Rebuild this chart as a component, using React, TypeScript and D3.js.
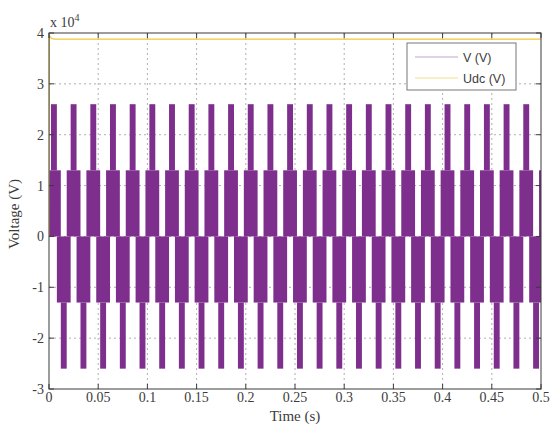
import React from 'react';
import * as d3 from 'd3';

// Figure size and plot frame
const W = 554;
const H = 426;
const frame = { left: 49, right: 541, top: 33, bottom: 389 };

// Axis ticks
const xTicks = [0, 0.05, 0.1, 0.15, 0.2, 0.25, 0.3, 0.35, 0.4, 0.45, 0.5];
const xTickLabels = ['0', '0.05', '0.1', '0.15', '0.2', '0.25', '0.3', '0.35', '0.4', '0.45', '0.5'];
const yTicks = [-3, -2, -1, 0, 1, 2, 3, 4]; // ×10^4
const yTickLabels = ['-3', '-2', '-1', '0', '1', '2', '3', '4'];

// Start time (s) of each 50 Hz fundamental cycle of the inverter output
const cycleStarts = [
  0, 0.02, 0.04, 0.06, 0.08, 0.1, 0.12, 0.14, 0.16, 0.18, 0.2, 0.22, 0.24,
  0.26, 0.28, 0.3, 0.32, 0.34, 0.36, 0.38, 0.4, 0.42, 0.44, 0.46, 0.48, 0.5,
];

// Five-level voltage steps (V)
const stepLevel = 13000;
const peakLevel = 26000;

// Switching bands within one cycle: time span (s, relative to cycle start) and voltage span (V)
const bandT0 = [-0.002, 0.002, 0.008, 0.012];
const bandT1 = [0.012, 0.008, 0.022, 0.018];
const bandLo = [0, stepLevel, -stepLevel, -peakLevel];
const bandHi = [stepLevel, peakLevel, 0, -stepLevel];

// DC-link voltage Udc (V)
const udcTimes = [0, 0.0004, 0.0012, 0.003, 0.006, 0.1, 0.2, 0.3, 0.4, 0.5];
const udcValues = [0, 39600, 39200, 38900, 38800, 38800, 38800, 38800, 38800, 38800];

const vColor = '#7e2f8e';
const udcColor = '#efc93a';
const serif = '"Liberation Serif", "DejaVu Serif", serif';
const sans = '"Liberation Sans", Arial, sans-serif';

export default function App() {
  const x = d3.scaleLinear().domain([0, 0.5]).range([frame.left, frame.right]);
  const y = d3.scaleLinear().domain([-30000, 40000]).range([frame.bottom, frame.top]);

  const bands: { x: number; w: number; y: number; h: number }[] = [];
  cycleStarts.forEach((c) => {
    bandT0.forEach((t0, i) => {
      const a = Math.max(0, c + t0);
      const b = Math.min(0.5, c + bandT1[i]);
      if (b <= a) return;
      bands.push({
        x: x(a),
        w: x(b) - x(a),
        y: y(bandHi[i]),
        h: y(bandLo[i]) - y(bandHi[i]),
      });
    });
  });

  const udcLine = d3
    .line<number>()
    .x((_, i) => x(udcTimes[i]))
    .y((d) => y(d))(udcValues) as string;

  const axisColor = '#3a3a3a';
  const gridColor = '#9a9a9a';
  const textColor = '#3c3c3c';
  const tickLen = 5;

  return (
    <svg
      width={W}
      height={H}
      style={{ position: 'absolute', left: 0, top: 0, background: '#fff' }}
    >
      <defs>
        <clipPath id="plotClip">
          <rect
            x={frame.left}
            y={frame.top}
            width={frame.right - frame.left}
            height={frame.bottom - frame.top}
          />
        </clipPath>
      </defs>
      <rect x={0} y={0} width={W} height={H} fill="#fff" />

      {/* dotted grid */}
      {xTicks.slice(1, -1).map((t) => (
        <line
          key={'gx' + t}
          x1={x(t)}
          x2={x(t)}
          y1={frame.top}
          y2={frame.bottom}
          stroke={gridColor}
          strokeWidth={0.8}
          strokeDasharray="2,3"
        />
      ))}
      {yTicks.slice(1, -1).map((t) => (
        <line
          key={'gy' + t}
          x1={frame.left}
          x2={frame.right}
          y1={y(t * 1e4)}
          y2={y(t * 1e4)}
          stroke={gridColor}
          strokeWidth={0.8}
          strokeDasharray="2,3"
        />
      ))}

      {/* V (V) */}
      <g clipPath="url(#plotClip)">
        {bands.map((b, i) => (
          <rect key={i} x={b.x} y={b.y} width={b.w} height={b.h} fill={vColor} />
        ))}
        {/* Udc (V) */}
        <path d={udcLine} fill="none" stroke={udcColor} strokeWidth={1.2} />
      </g>

      {/* axes box and inward ticks */}
      <rect
        x={frame.left}
        y={frame.top}
        width={frame.right - frame.left}
        height={frame.bottom - frame.top}
        fill="none"
        stroke={axisColor}
        strokeWidth={1}
      />
      {xTicks.map((t) => (
        <g key={'tx' + t}>
          <line x1={x(t)} x2={x(t)} y1={frame.bottom} y2={frame.bottom - tickLen} stroke={axisColor} />
          <line x1={x(t)} x2={x(t)} y1={frame.top} y2={frame.top + tickLen} stroke={axisColor} />
        </g>
      ))}
      {yTicks.map((t) => (
        <g key={'ty' + t}>
          <line x1={frame.left} x2={frame.left + tickLen} y1={y(t * 1e4)} y2={y(t * 1e4)} stroke={axisColor} />
          <line x1={frame.right} x2={frame.right - tickLen} y1={y(t * 1e4)} y2={y(t * 1e4)} stroke={axisColor} />
        </g>
      ))}

      {/* tick labels */}
      {xTicks.map((t, i) => (
        <text
          key={'lx' + t}
          x={x(t)}
          y={frame.bottom + 13}
          textAnchor="middle"
          fontFamily={serif}
          fontSize={14}
          fill={textColor}
        >
          {xTickLabels[i]}
        </text>
      ))}
      {yTicks.map((t, i) => (
        <text
          key={'ly' + t}
          x={frame.left - 5}
          y={y(t * 1e4) + 5}
          textAnchor="end"
          fontFamily={serif}
          fontSize={14}
          fill={textColor}
        >
          {yTickLabels[i]}
        </text>
      ))}

      {/* exponent label */}
      <text x={frame.left + 1} y={frame.top - 6} fontFamily={serif} fontSize={14} fill={textColor}>
        x 10
        <tspan dy={-6} fontSize={10}>
          4
        </tspan>
      </text>

      {/* axis titles */}
      <text
        x={(frame.left + frame.right) / 2}
        y={frame.bottom + 32}
        textAnchor="middle"
        fontFamily={serif}
        fontSize={15}
        fill={textColor}
      >
        Time (s)
      </text>
      <text
        transform={`translate(19,${(frame.top + frame.bottom) / 2 + 3}) rotate(-90)`}
        textAnchor="middle"
        fontFamily={serif}
        fontSize={15}
        fill={textColor}
      >
        Voltage (V)
      </text>

      {/* legend */}
      <g>
        <rect x={407} y={43} width={109} height={47} fill="#fff" stroke="#777" strokeWidth={1} />
        <line x1={415} x2={458} y1={57} y2={57} stroke={vColor} strokeOpacity={0.45} strokeWidth={1.2} />
        <text x={463} y={61.5} fontFamily={sans} fontSize={12.5} fill={textColor}>
          V (V)
        </text>
        <line x1={415} x2={458} y1={78} y2={78} stroke={udcColor} strokeOpacity={0.6} strokeWidth={1.2} />
        <text x={463} y={82.5} fontFamily={sans} fontSize={12.5} fill={textColor}>
          Udc (V)
        </text>
      </g>
    </svg>
  );
}
